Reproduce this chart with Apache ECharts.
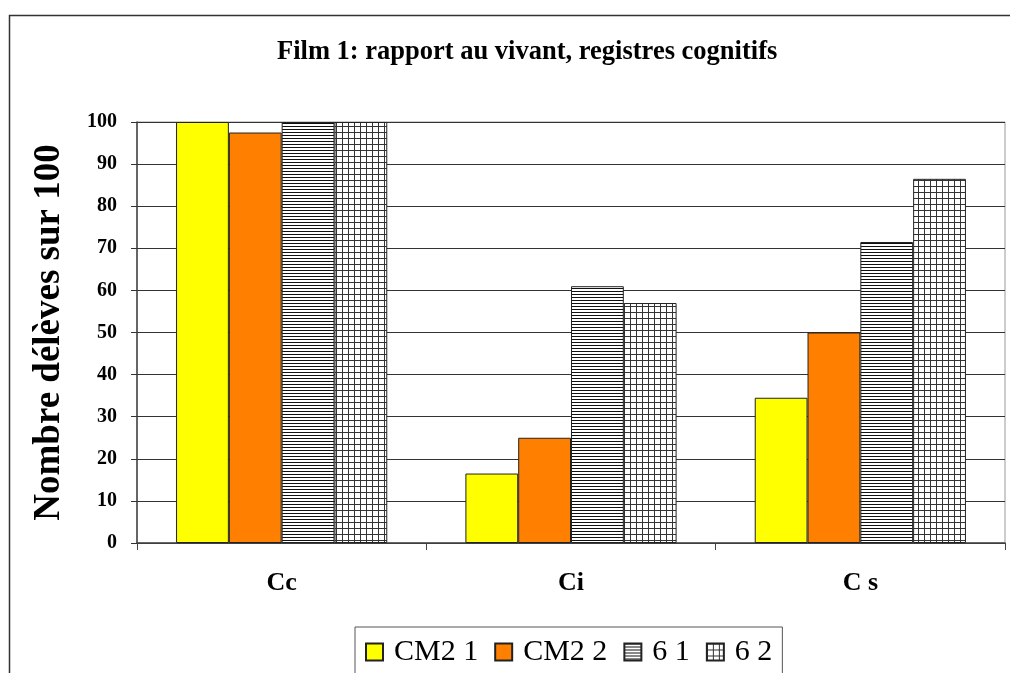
<!DOCTYPE html>
<html>
<head>
<meta charset="utf-8">
<script src="https://cdn.jsdelivr.net/npm/echarts@6/dist/echarts.min.js"></script>
<style>
html,body{margin:0;padding:0;background:#fff;}
#chart{width:1010px;height:673px;}
</style>
</head>
<body>
<div id="chart"></div>
<script>
const categories = ['Cc', 'Ci', 'C s'];
const seriesNames = ['CM2 1', 'CM2 2', '6 1', '6 2'];
const cm21 = [100, 16.5, 34.5];
const cm22 = [97.5, 25, 50];
const six1 = [100, 61, 71.5];
const six2 = [100, 57, 86.5];
const yTicks = [0, 10, 20, 30, 40, 50, 60, 70, 80, 90, 100];

function hPattern() {
  const c = document.createElement('canvas');
  c.width = 3; c.height = 3;
  const g = c.getContext('2d');
  g.fillStyle = '#fff'; g.fillRect(0, 0, 3, 3);
  g.fillStyle = '#111'; g.fillRect(0, 0, 3, 1);
  return c;
}
function gridPattern() {
  const c = document.createElement('canvas');
  c.width = 6; c.height = 6;
  const g = c.getContext('2d');
  g.fillStyle = '#fff'; g.fillRect(0, 0, 6, 6);
  g.fillStyle = '#333';
  g.fillRect(0, 0, 6, 1);
  g.fillRect(0, 0, 1, 6);
  return c;
}

const font = '"Liberation Serif", "Times New Roman", serif';
const chart = echarts.init(document.getElementById('chart'));

const fills = [
  '#ffff00',
  '#ff7f00',
  { image: hPattern(), repeat: 'repeat' },
  { image: gridPattern(), repeat: 'repeat' }
];
const dataSets = [cm21, cm22, six1, six2];

chart.setOption({
  animation: false,
  backgroundColor: '#fff',
  textStyle: { fontFamily: font },
  title: {
    text: 'Film 1: rapport au vivant, registres cognitifs',
    left: 272, top: 34,
    textStyle: { fontFamily: font, fontSize: 26.5, fontWeight: 'bold', color: '#000' }
  },
  graphic: [{
    type: 'rect', left: 7, top: 13, silent: true,
    shape: { width: 1030, height: 700 },
    style: { fill: 'none', stroke: '#333', lineWidth: 1.5 }
  }],
  legend: {
    left: 355, top: 627,
    padding: [10, 10, 30, 10],
    borderColor: '#555', borderWidth: 1,
    itemWidth: 17, itemHeight: 17, itemGap: 16,
    icon: 'rect',
    textStyle: { fontFamily: font, fontSize: 30, color: '#000', padding: [0, 0, 0, 6] },
    data: seriesNames
  },
  grid: {
    left: 137, right: 5, top: 122, bottom: 130,
    show: true, borderColor: '#999', borderWidth: 1
  },
  xAxis: {
    type: 'category',
    data: categories,
    axisLine: { lineStyle: { color: '#444', width: 1.5 } },
    axisTick: { show: true, length: 7, lineStyle: { color: '#444' } },
    axisLabel: { margin: 27, fontFamily: font, fontSize: 26, fontWeight: 'bold', color: '#000' }
  },
  yAxis: {
    type: 'value', min: 0, max: 100, interval: 10,
    name: 'Nombre délèves sur 100',
    nameLocation: 'middle', nameGap: 69, nameRotate: 90,
    nameTextStyle: { fontFamily: font, fontSize: 37, fontWeight: 'bold', color: '#000' },
    axisLine: { show: true, lineStyle: { color: '#444', width: 1.5 } },
    axisTick: { show: true, length: 6, lineStyle: { color: '#333' } },
    axisLabel: {
      margin: 20, fontFamily: font, fontSize: 20, fontWeight: 'bold', color: '#000',
      formatter: v => yTicks.includes(v) ? String(v) : ''
    },
    splitLine: { lineStyle: { color: '#333', width: 1 } }
  },
  series: seriesNames.map((n, i) => ({
    name: n,
    type: 'bar',
    data: dataSets[i],
    barGap: '0%',
    barCategoryGap: '27%',
    itemStyle: { color: fills[i], borderColor: '#222', borderWidth: 1 }
  }))
});
</script>
</body>
</html>
